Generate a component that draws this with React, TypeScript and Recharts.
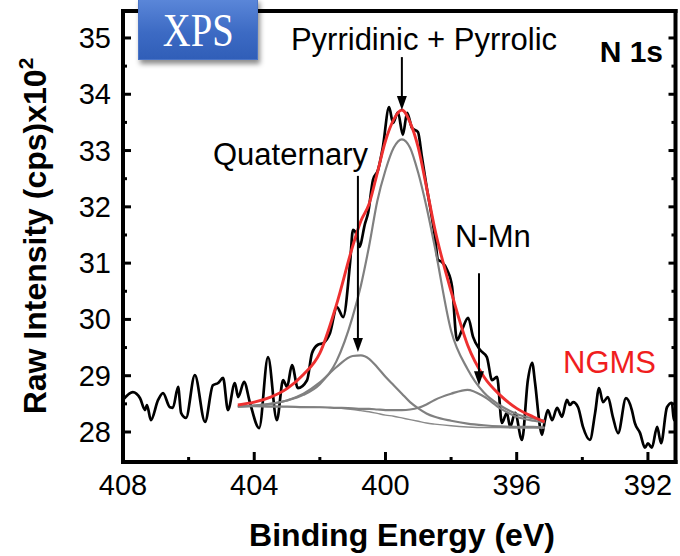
import React from 'react';
import { ComposedChart, Line, XAxis, YAxis, ReferenceLine } from 'recharts';

// ---- Raw spectrum (binding energy in eV, intensity in cps x10^2) ----
const rawEnergy = [
  408.0, 407.7, 407.48, 407.33, 407.27, 407.15, 406.93, 406.78, 406.57, 406.48,
  406.32, 406.23, 406.08, 405.81, 405.5, 405.26, 405.1, 404.95, 404.8, 404.59,
  404.49, 404.31, 404.13, 403.85, 403.58, 403.31, 403.12, 403.0, 402.85, 402.67,
  402.39, 402.24, 402.06, 401.9, 401.69, 401.48, 401.29, 401.08, 400.99, 400.86,
  400.8, 400.62, 400.53, 400.38, 400.23, 400.08, 399.89, 399.77, 399.62, 399.47,
  399.34, 399.19, 399.01, 398.89, 398.73, 398.64, 398.49, 398.4, 398.28, 398.12,
  397.97, 397.82, 397.67, 397.48, 397.33, 397.12, 396.91, 396.75, 396.6, 396.45,
  396.3, 396.2, 396.05, 395.84, 395.66, 395.53, 395.44, 395.29, 395.23, 395.14,
  395.05, 394.92, 394.77, 394.62, 394.47, 394.38, 394.28, 394.13, 393.98, 393.77,
  393.61, 393.49, 393.37, 393.22, 393.07, 392.91, 392.67, 392.49, 392.4, 392.24,
  392.09, 392.0, 391.88, 391.72, 391.6, 391.42, 391.27, 391.21, 391.12,
];
const rawIntensity = [
  28.57, 28.71, 28.6, 28.39, 28.48, 28.21, 28.57, 28.69, 28.44, 28.43,
  28.8, 28.34, 28.25, 29.01, 28.18, 28.83, 28.87, 28.96, 28.39, 28.87,
  28.62, 28.89, 28.52, 28.07, 29.33, 28.21, 28.92, 28.8, 29.19, 28.78,
  28.92, 29.4, 29.55, 29.58, 29.76, 30.22, 30.04, 31.0, 31.59, 31.46,
  31.29, 31.71, 31.89, 32.48, 32.65, 33.06, 33.77, 33.49, 33.68, 33.28,
  33.67, 33.4, 33.33, 32.89, 32.3, 32.0, 31.46, 31.06, 31.02, 30.88,
  30.58, 29.63, 29.81, 30.03, 29.69, 29.46, 29.33, 28.92, 28.98, 28.16,
  28.34, 28.09, 28.34, 27.86, 28.92, 29.23, 28.87, 28.09, 27.95, 28.21,
  28.39, 28.21, 28.43, 28.27, 28.57, 28.48, 28.53, 28.44, 28.09, 27.86,
  28.34, 28.78, 28.53, 28.62, 28.27, 27.98, 28.6, 28.39, 28.16, 27.98,
  27.72, 27.8, 27.72, 28.09, 27.8, 28.44, 28.52, 28.21, 28.53,
];

// ---- Fitted components (common energy grid) ----
const fitEnergy = [
  404.5, 404, 403.5, 403, 402.5, 402, 401.5, 401, 400.75, 400.5, 400.25, 400,
  399.75, 399.5, 399.25, 399, 398.75, 398.5, 398, 397.5, 397, 396.5, 396, 395.5, 395.15,
];
const envelopeFit = [
  28.48, 28.53, 28.62, 28.77, 29.02, 29.4, 30.25, 31.3, 31.75, 32.05, 32.6, 33.17,
  33.55, 33.72, 33.5, 33.05, 32.35, 31.62, 30.5, 29.55, 28.98, 28.65, 28.42, 28.27, 28.18,
];
const mainPeak = [
  28.45, 28.47, 28.5, 28.56, 28.66, 28.85, 29.25, 30.05, 30.6, 31.3, 32.1, 32.65,
  33.05, 33.2, 33.05, 32.6, 32.0, 31.3, 29.8, 29.12, 28.7, 28.47, 28.32, 28.24, 28.2,
];
const quaternaryPeak = [
  28.45, 28.47, 28.5, 28.56, 28.68, 28.88, 29.15, 29.35, 29.36, 29.3, 29.15, 28.98,
  28.83, 28.68, 28.53, 28.42, 28.33, 28.27, 28.2, 28.15, 28.12, 28.1, 28.09, 28.09, 28.08,
];
const nmnPeak = [
  28.46, 28.46, 28.45, 28.45, 28.44, 28.44, 28.43, 28.42, 28.41, 28.41, 28.4, 28.39,
  28.39, 28.39, 28.4, 28.43, 28.49, 28.57, 28.68, 28.75, 28.63, 28.42, 28.27, 28.2, 28.17,
];
const backgroundLine = [
  28.46, 28.46, 28.46, 28.45, 28.45, 28.44, 28.43, 28.4, 28.38, 28.36, 28.33, 28.3,
  28.28, 28.25, 28.22, 28.19, 28.16, 28.14, 28.11, 28.09, 28.08, 28.08, 28.07, 28.07, 28.07,
];

// ---- Axes ----
const xTicks = [392, 394, 396, 398, 400, 402, 404, 406, 408];
const yTicks = [28, 28.5, 29, 29.5, 30, 30.5, 31, 31.5, 32, 32.5, 33, 33.5, 34, 34.5, 35];
const X_DOMAIN: [number, number] = [391.16, 408];
const Y_DOMAIN: [number, number] = [27.467, 35.479];

// ---- Annotation arrows (energy, from intensity, to intensity) ----
const arrowEnergy = [399.5, 400.84, 397.15];
const arrowFrom = [34.66, 32.55, 30.82];
const arrowTo = [33.72, 29.42, 28.83];

const FONT = '"Liberation Sans", Arial, Helvetica, sans-serif';

const toSeries = (xs: number[], ys: number[]) => xs.map((x, i) => ({ x, y: ys[i] }));

const rawData = toSeries(rawEnergy, rawIntensity);
const envData = toSeries(fitEnergy, envelopeFit);
const mainData = toSeries(fitEnergy, mainPeak);
const quatData = toSeries(fitEnergy, quaternaryPeak);
const nmnData = toSeries(fitEnergy, nmnPeak);
const bgData = toSeries(fitEnergy, backgroundLine);

const isMajorX = (v: number) => Math.round(v) % 4 === 0;
const isMajorY = (v: number) => Math.abs(v - Math.round(v)) < 1e-6;

const BottomTick = (props: any) => {
  const { x, y, payload } = props;
  const major = isMajorX(payload.value);
  return (
    <g>
      <line x1={x} x2={x} y1={y} y2={y - (major ? 10 : 5)} stroke="#000" strokeWidth={3} />
      {major && (
        <text x={x} y={y + 33} textAnchor="middle" fontSize={29} fontFamily={FONT} fill="#000">
          {payload.value}
        </text>
      )}
    </g>
  );
};

const TopTick = (props: any) => {
  const { x, y, payload } = props;
  const major = isMajorX(payload.value);
  return <line x1={x} x2={x} y1={y} y2={y + (major ? 7 : 4)} stroke="#000" strokeWidth={3} />;
};

const LeftTick = (props: any) => {
  const { x, y, payload } = props;
  const major = isMajorY(payload.value);
  return (
    <g>
      <line x1={x} x2={x + (major ? 8 : 4)} y1={y} y2={y} stroke="#000" strokeWidth={3} />
      {major && (
        <text x={x - 12} y={y + 10} textAnchor="end" fontSize={29} fontFamily={FONT} fill="#000">
          {payload.value}
        </text>
      )}
    </g>
  );
};

const RightTick = (props: any) => {
  const { x, y, payload } = props;
  const major = isMajorY(payload.value);
  return <line x1={x} x2={x - (major ? 7 : 4)} y1={y} y2={y} stroke="#000" strokeWidth={3} />;
};

const ArrowShape = (props: any) => {
  const { x1, y1, x2, y2 } = props;
  const head = 14;
  return (
    <g>
      <line x1={x1} y1={y1} x2={x2} y2={y2 - head + 2} stroke="#000" strokeWidth={2} />
      <polygon points={`${x2},${y2} ${x2 - 5},${y2 - head} ${x2 + 5},${y2 - head}`} fill="#000" />
    </g>
  );
};

const axisLineStyle = { stroke: '#000', strokeWidth: 4, strokeLinecap: 'square' as const };

export default function App() {
  return (
    <div style={{ position: 'absolute', left: 0, top: 0, width: 680, height: 556, background: '#fff' }}>
      <ComposedChart width={680} height={556} margin={{ top: 0, right: 0, bottom: 0, left: 0 }}>
        <XAxis
          xAxisId="b"
          dataKey="x"
          type="number"
          domain={X_DOMAIN}
          reversed
          allowDataOverflow
          ticks={xTicks}
          interval={0}
          tickSize={0}
          tickMargin={0}
          tickLine={false}
          tick={<BottomTick />}
          axisLine={axisLineStyle}
          height={94}
        />
        <XAxis
          xAxisId="t"
          orientation="top"
          type="number"
          domain={X_DOMAIN}
          reversed
          allowDataOverflow
          ticks={xTicks}
          interval={0}
          tickSize={0}
          tickMargin={0}
          tickLine={false}
          tick={<TopTick />}
          axisLine={axisLineStyle}
          height={11}
        />
        <YAxis
          yAxisId="l"
          type="number"
          domain={Y_DOMAIN}
          allowDataOverflow
          ticks={yTicks}
          interval={0}
          tickSize={0}
          tickMargin={0}
          tickLine={false}
          tick={<LeftTick />}
          axisLine={axisLineStyle}
          width={123}
        />
        <YAxis
          yAxisId="r"
          orientation="right"
          type="number"
          domain={Y_DOMAIN}
          allowDataOverflow
          ticks={yTicks}
          interval={0}
          tickSize={0}
          tickMargin={0}
          tickLine={false}
          tick={<RightTick />}
          axisLine={axisLineStyle}
          width={4.5}
        />
        <Line
          xAxisId="b" yAxisId="l" data={rawData} dataKey="y" type="monotone"
          stroke="#000" strokeWidth={2.7} dot={false} isAnimationActive={false}
        />
        <Line
          xAxisId="b" yAxisId="l" data={bgData} dataKey="y" type="monotone"
          stroke="#8a8a8a" strokeWidth={1.4} dot={false} isAnimationActive={false}
        />
        <Line
          xAxisId="b" yAxisId="l" data={nmnData} dataKey="y" type="monotone"
          stroke="#808080" strokeWidth={2.2} dot={false} isAnimationActive={false}
        />
        <Line
          xAxisId="b" yAxisId="l" data={quatData} dataKey="y" type="monotone"
          stroke="#808080" strokeWidth={2.2} dot={false} isAnimationActive={false}
        />
        <Line
          xAxisId="b" yAxisId="l" data={mainData} dataKey="y" type="monotone"
          stroke="#808080" strokeWidth={2.2} dot={false} isAnimationActive={false}
        />
        <Line
          xAxisId="b" yAxisId="l" data={envData} dataKey="y" type="monotone"
          stroke="#ee3030" strokeWidth={2.9} dot={false} isAnimationActive={false}
        />
        {arrowEnergy.map((e, i) => (
          <ReferenceLine
            key={i}
            xAxisId="b"
            yAxisId="l"
            segment={[{ x: e, y: arrowFrom[i] }, { x: e, y: arrowTo[i] }]}
            shape={<ArrowShape />}
            ifOverflow="visible"
          />
        ))}
      </ComposedChart>

      <svg
        width={680}
        height={556}
        style={{ position: 'absolute', left: 0, top: 0, pointerEvents: 'none' }}
        fontFamily={FONT}
      >
        <text x={424} y={50} textAnchor="middle" fontSize={31} fill="#000">Pyrridinic + Pyrrolic</text>
        <text x={663} y={62} textAnchor="end" fontSize={30} fontWeight="bold" fill="#000">N 1s</text>
        <text x={213} y={165} fontSize={31} fill="#000">Quaternary</text>
        <text x={455} y={247} fontSize={31} fill="#000">N-Mn</text>
        <text x={563} y={373} fontSize={31} fill="#f01e1e">NGMS</text>
        <text x={402} y={546} textAnchor="middle" fontSize={32} fontWeight="bold" fill="#000">
          Binding Energy (eV)
        </text>
        <text
          transform="translate(46,236) rotate(-90)"
          textAnchor="middle"
          fontSize={32}
          fontWeight="bold"
          fill="#000"
        >
          Raw Intensity (cps)x10<tspan dy={-13} fontSize={21}>2</tspan>
        </text>
      </svg>

      <div
        style={{
          position: 'absolute',
          left: 138,
          top: -2,
          width: 120,
          height: 62,
          background: 'linear-gradient(#5b87d9, #3d6bc4 55%, #305eb8)',
          boxShadow: '2px 4px 5px rgba(0,0,0,0.45)',
          border: '1px solid #4a74c6',
          boxSizing: 'border-box',
          display: 'flex',
          alignItems: 'center',
          justifyContent: 'center',
        }}
      >
        <span
          style={{
            fontFamily: '"Liberation Serif", "Times New Roman", serif',
            fontSize: 46,
            color: '#fff',
            lineHeight: 1,
            display: 'inline-block',
            transform: 'scaleX(0.84) translateY(2px)',
          }}
        >
          XPS
        </span>
      </div>
    </div>
  );
}
